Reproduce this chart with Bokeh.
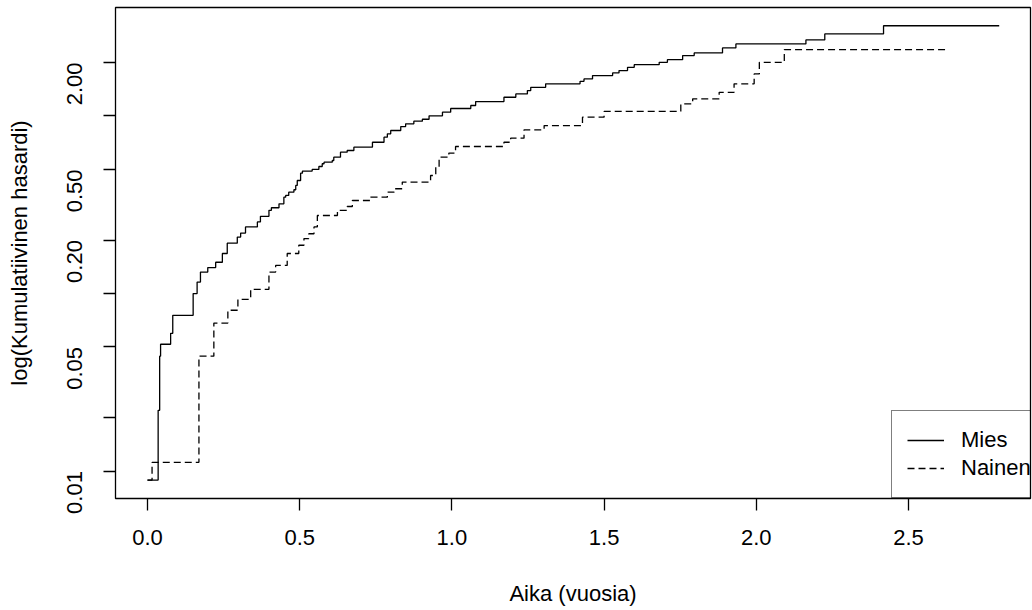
import math
from bokeh.plotting import figure
from bokeh.models import Range1d, FixedTicker, Legend, LegendItem
from bokeh.embed import file_html
from bokeh.resources import INLINE

# ---- data ----
mies_time = [0.0, 0.035, 0.040, 0.043, 0.076, 0.083, 0.150, 0.163, 0.174, 0.198,
             0.224, 0.246, 0.262, 0.295, 0.306, 0.322, 0.361, 0.371, 0.399, 0.407,
             0.432, 0.448, 0.454, 0.464, 0.481, 0.487, 0.492, 0.503, 0.509, 0.541,
             0.563, 0.574, 0.580, 0.607, 0.612, 0.634, 0.656, 0.678, 0.739, 0.777,
             0.788, 0.799, 0.832, 0.848, 0.875, 0.903, 0.925, 0.969, 0.996, 1.062,
             1.078, 1.171, 1.210, 1.248, 1.259, 1.308, 1.421, 1.434, 1.462, 1.528,
             1.549, 1.577, 1.599, 1.681, 1.708, 1.758, 1.796, 1.889, 1.933, 2.163,
             2.225, 2.418, 2.798]
mies_hazard = [0.0089, 0.0220, 0.0444, 0.0518, 0.0597, 0.0754, 0.0999, 0.116, 0.132, 0.140,
               0.150, 0.168, 0.192, 0.208, 0.219, 0.237, 0.253, 0.272, 0.294, 0.304,
               0.320, 0.349, 0.357, 0.372, 0.384, 0.406, 0.433, 0.476, 0.489, 0.500,
               0.519, 0.538, 0.549, 0.561, 0.586, 0.625, 0.639, 0.667, 0.711, 0.759,
               0.793, 0.828, 0.871, 0.903, 0.934, 0.958, 1.002, 1.050, 1.101, 1.145,
               1.205, 1.274, 1.331, 1.389, 1.450, 1.516, 1.567, 1.617, 1.688, 1.747,
               1.800, 1.879, 1.945, 2.004, 2.075, 2.187, 2.264, 2.415, 2.543, 2.678,
               2.896, 3.220, 3.220]

nainen_time = [0.0, 0.015, 0.169, 0.218, 0.264, 0.297, 0.339, 0.399, 0.421, 0.459,
               0.497, 0.514, 0.530, 0.547, 0.558, 0.624, 0.656, 0.673, 0.733, 0.788,
               0.810, 0.837, 0.930, 0.947, 0.958, 0.990, 1.012, 1.171, 1.193, 1.237,
               1.303, 1.429, 1.500, 1.752, 1.791, 1.878, 1.927, 1.993, 2.010, 2.092,
               2.623]
nainen_hazard = [0.0089, 0.0112, 0.0444, 0.0682, 0.0805, 0.0928, 0.1056, 0.132, 0.144, 0.168,
                 0.187, 0.204, 0.217, 0.237, 0.275, 0.294, 0.309, 0.334, 0.349, 0.372,
                 0.389, 0.424, 0.462, 0.514, 0.586, 0.618, 0.673, 0.711, 0.750, 0.835,
                 0.883, 0.984, 1.062, 1.170, 1.248, 1.358, 1.516, 1.725, 2.004, 2.362,
                 2.362]

x_ticks = [0.0, 0.5, 1.0, 1.5, 2.0, 2.5]
x_tick_labels = ["0.0", "0.5", "1.0", "1.5", "2.0", "2.5"]
y_ticks = [0.01, 0.02, 0.05, 0.1, 0.2, 0.5, 1.0, 2.0]
y_tick_labels = ["0.01", "", "0.05", "", "0.20", "0.50", "", "2.00"]

series_names = ["Mies", "Nainen"]
x_title = "Aika (vuosia)"
y_title = "log(Kumulatiivinen hasardi)"

FONT = "Liberation Sans"
FS = "22px"

p = figure(width=1032, height=610, y_axis_type="log",
           x_range=Range1d(-0.1051, 2.9008), y_range=Range1d(0.00701, 4.08),
           output_backend="svg", toolbar_location=None,
           min_border_left=115, min_border_right=2, min_border_top=7, min_border_bottom=112)

p.background_fill_color = "white"
p.border_fill_color = "white"
p.outline_line_color = "black"
p.outline_line_width = 1.3
p.xgrid.visible = False
p.ygrid.visible = False

r1 = p.step(mies_time, mies_hazard, mode="after", line_color="black", line_width=1.3)
r2 = p.step(nainen_time, nainen_hazard, mode="after", line_color="black", line_width=1.3,
            line_dash="7 4")

for ax in (p.xaxis[0], p.yaxis[0]):
    ax.axis_line_color = None
    ax.major_tick_line_color = "black"
    ax.major_tick_line_width = 1.3
    ax.major_tick_out = 12
    ax.major_tick_in = 0
    ax.minor_tick_line_color = None
    ax.major_label_text_font = FONT
    ax.major_label_text_font_size = FS
    ax.major_label_text_color = "black"
    ax.axis_label_text_font = FONT
    ax.axis_label_text_font_size = FS
    ax.axis_label_text_font_style = "normal"
    ax.axis_label_text_color = "black"

p.xaxis[0].major_label_standoff = 19
p.xaxis[0].axis_label_standoff = 33
p.yaxis[0].major_label_standoff = 29
p.yaxis[0].axis_label_standoff = 25

p.xaxis[0].ticker = FixedTicker(ticks=x_ticks, minor_ticks=[])
p.xaxis[0].major_label_overrides = {t: l for t, l in zip(x_ticks, x_tick_labels)}
p.xaxis[0].axis_label = x_title

p.yaxis[0].ticker = FixedTicker(ticks=y_ticks, minor_ticks=[])
p.yaxis[0].major_label_overrides = {t: l for t, l in zip(y_ticks, y_tick_labels)}
p.yaxis[0].major_label_orientation = math.pi / 2
p.yaxis[0].axis_label = y_title

legend = Legend(items=[LegendItem(label=series_names[0], renderers=[r1]),
                       LegendItem(label=series_names[1], renderers=[r2])],
                location=(776, 0))
legend.border_line_color = "black"
legend.border_line_width = 1.3
legend.background_fill_alpha = 0
legend.padding = 15
legend.spacing = 0
legend.margin = 0
legend.glyph_width = 37
legend.glyph_height = 28
legend.label_height = 28
legend.label_standoff = 17
legend.label_text_font = FONT
legend.label_text_font_size = FS
legend.label_text_color = "black"
p.add_layout(legend, "center")

open("out.html", "w").write(file_html(p, INLINE))
